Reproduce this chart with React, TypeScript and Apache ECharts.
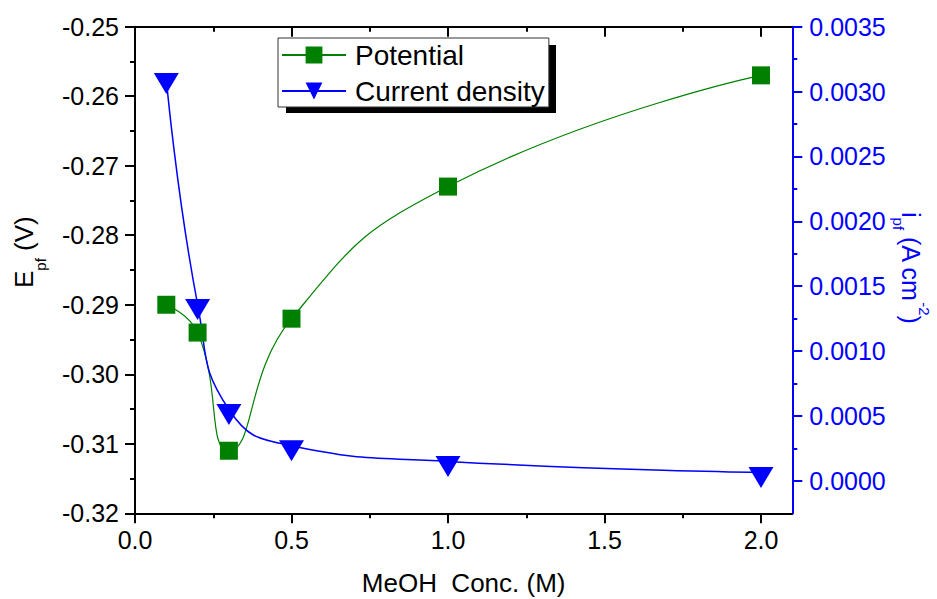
import React, { useEffect, useRef } from 'react';
import * as echarts from 'echarts';

const concentration = [0.1, 0.2, 0.3, 0.5, 1.0, 2.0];
const potential = [-0.29, -0.294, -0.311, -0.292, -0.273, -0.257];
const currentDensity = [0.0031, 0.00136, 0.00055, 0.00027, 0.00015, 0.000065];
const seriesNames = ['Potential', 'Current density'];
const xMajorTicks = [0, 0.5, 1.0, 1.5, 2.0];
const xMinorTicks = [0.25, 0.75, 1.25, 1.75];
const rightMajorTicks = [0, 0.0005, 0.001, 0.0015, 0.002, 0.0025, 0.003, 0.0035];
const rightMinorTicks = [0.00025, 0.00075, 0.00125, 0.00175, 0.00225, 0.00275, 0.00325];

const FONT = "'Liberation Sans', Arial, sans-serif";
const GREEN = '#008000';
const BLUE = '#0000ff';

export default function App() {
  const ref = useRef<HTMLDivElement>(null);
  useEffect(() => {
    document.body.style.margin = '0';
    if (!ref.current) return;
    const chart = echarts.init(ref.current, undefined, { renderer: 'svg' });
    const xBase: any = { type: 'value', min: 0, max: 2.1, splitLine: { show: false } };
    const rBase: any = { type: 'value', min: -0.00025, max: 0.0035, interval: 0.00025, splitLine: { show: false } };
    const tickStyle = (c: string) => ({ color: c, width: 2 });
    chart.setOption({
      animation: false,
      grid: { left: 135, right: 144.7, top: 26.7, bottom: 85.7, containLabel: false, outerBoundsMode: 'none' },
      xAxis: [
        {
          ...xBase, position: 'bottom',
          axisLine: { show: true, onZero: false, lineStyle: tickStyle('#000') },
          axisTick: { show: true, length: 10, customValues: xMajorTicks, lineStyle: tickStyle('#000') },
          axisLabel: { show: true, customValues: xMajorTicks, formatter: (v: number) => v.toFixed(1), fontSize: 25, color: '#000', fontFamily: FONT, margin: 14 },
          name: 'MeOH  Conc. (M)', nameLocation: 'middle', nameGap: 57,
          nameTextStyle: { fontSize: 26, color: '#000', fontFamily: FONT },
        },
        {
          ...xBase, position: 'bottom', offset: 0,
          axisLine: { show: false, onZero: false },
          axisTick: { show: true, length: 5, customValues: xMinorTicks, lineStyle: tickStyle('#000') },
          axisLabel: { show: false },
        },
        {
          ...xBase, position: 'top', offset: 0,
          axisLine: { show: true, onZero: false, lineStyle: tickStyle('#000') },
          axisTick: { show: true, inside: true, length: 10, customValues: xMajorTicks, lineStyle: tickStyle('#000') },
          axisLabel: { show: false },
        },
        {
          ...xBase, position: 'top', offset: 0,
          axisLine: { show: false, onZero: false },
          axisTick: { show: true, inside: true, length: 5, customValues: xMinorTicks, lineStyle: tickStyle('#000') },
          axisLabel: { show: false },
        },
      ],
      yAxis: [
        {
          type: 'value', position: 'left', min: -0.32, max: -0.25, interval: 0.01,
          axisLine: { show: true, onZero: false, lineStyle: tickStyle('#000') },
          axisTick: { show: true, length: 10, lineStyle: tickStyle('#000') },
          minorTick: { show: true, splitNumber: 2, length: 5, lineStyle: tickStyle('#000') },
          axisLabel: { formatter: (v: number) => v.toFixed(2), fontSize: 25, color: '#000', fontFamily: FONT, margin: 16 },
          splitLine: { show: false }, minorSplitLine: { show: false },
        },
        {
          ...rBase, position: 'right',
          axisLine: { show: true, onZero: false, lineStyle: tickStyle(BLUE) },
          axisTick: { show: true, length: 10, customValues: rightMajorTicks, lineStyle: tickStyle(BLUE) },
          axisLabel: { customValues: rightMajorTicks, formatter: (v: number) => v.toFixed(4), fontSize: 25, color: BLUE, fontFamily: FONT, margin: 17 },
        },
        {
          ...rBase, position: 'right', offset: 0,
          axisLine: { show: false, onZero: false },
          axisTick: { show: true, length: 5, customValues: rightMinorTicks, lineStyle: tickStyle(BLUE) },
          axisLabel: { show: false },
        },
      ],
      legend: {
        data: seriesNames, orient: 'vertical', left: 278, top: 38,
        padding: [3, 4, 2, 3], itemGap: 8, itemWidth: 64, itemHeight: 21,
        backgroundColor: '#fff', borderColor: '#333', borderWidth: 1, borderRadius: 0,
        selectedMode: false,
        textStyle: { fontSize: 28, color: '#000', fontFamily: FONT, padding: [0, 0, 0, 4] },
      },
      graphic: [
        { type: 'rect', z: 3, silent: true, shape: { x: 286, y: 45, width: 270, height: 68 }, style: { fill: '#000' } },
        {
          type: 'text', x: 24, y: 288, rotation: Math.PI / 2, silent: true,
          style: {
            text: '{m|E}{s|pf}{m| (V)}', align: 'left', verticalAlign: 'middle',
            rich: {
              m: { fontSize: 26, fontFamily: FONT, lineHeight: 47, verticalAlign: 'middle', fill: '#000' },
              s: { fontSize: 15, fontFamily: FONT, lineHeight: 15, verticalAlign: 'bottom', fill: '#000' },
            },
          },
        },
        {
          type: 'text', x: 911, y: 212, rotation: -Math.PI / 2, silent: true,
          style: {
            text: '{m|i}{s|pf}{m| (A cm}{p|-2}{m|)}', align: 'left', verticalAlign: 'middle',
            rich: {
              m: { fontSize: 25, fontFamily: FONT, lineHeight: 41, verticalAlign: 'middle', fill: BLUE },
              s: { fontSize: 15, fontFamily: FONT, lineHeight: 15, verticalAlign: 'bottom', fill: BLUE },
              p: { fontSize: 15, fontFamily: FONT, lineHeight: 15, verticalAlign: 'top', fill: BLUE },
            },
          },
        },
      ],
      series: [
        {
          name: seriesNames[0], type: 'line', xAxisIndex: 0, yAxisIndex: 0,
          data: concentration.map((x, i) => [x, potential[i]]),
          smooth: 0.5, symbol: 'rect', symbolSize: 18,
          lineStyle: { color: GREEN, width: 1.2 }, itemStyle: { color: GREEN },
        },
        {
          name: seriesNames[1], type: 'line', xAxisIndex: 0, yAxisIndex: 1,
          data: concentration.map((x, i) => [x, currentDensity[i]]),
          smooth: 0.5, symbol: 'path://M0,0L24,0L12,21Z', symbolSize: [25, 21], symbolOffset: [0, 5],
          lineStyle: { color: BLUE, width: 1.5 }, itemStyle: { color: BLUE },
        },
      ],
    });
    return () => chart.dispose();
  }, []);
  return <div ref={ref} style={{ width: 937, height: 599 }} />;
}
